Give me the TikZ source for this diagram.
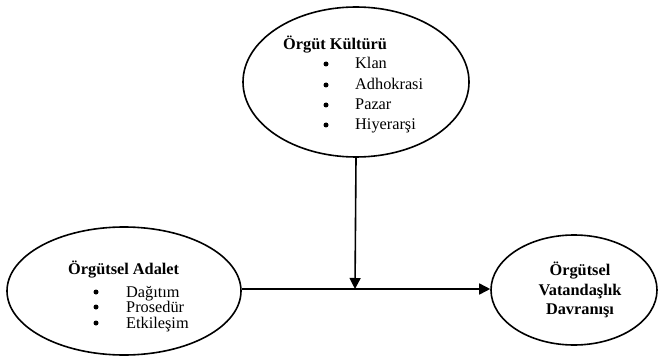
\documentclass[tikz,border=0pt]{standalone}
\usepackage{fontspec}
\setmainfont{Liberation Serif}
\usetikzlibrary{shapes.geometric,arrows.meta}
\begin{document}
\begin{tikzpicture}[x=1pt,y=-1pt,
  oval/.style={draw,ellipse,line width=1.6pt,inner sep=0pt},
  txt/.style={inner sep=0pt,font=\fontsize{16.3}{18}\selectfont},
  ttl/.style={txt,font=\fontsize{16.3}{18}\selectfont\bfseries},
  dot/.style={circle,fill=black,inner sep=0pt,minimum size=5pt},
  conn/.style={line width=1.6pt,-{Triangle[length=11pt,width=11pt]}}]
\useasboundingbox (0,0) rectangle (660,358);
% ellipses
\node[oval,minimum width=226pt,minimum height=150pt] (kultur) at (356,82) {};
\node[oval,minimum width=234pt,minimum height=128pt] (adalet) at (124,291) {};
\node[oval,minimum width=166pt,minimum height=110pt] (ovd) at (574,290) {};
% top texts
\node[ttl,anchor=base west] (t1) at (283,50) {Örgüt Kültürü};
\node[dot] (b1) at (326,64) {};
\node[dot] (b2) at (326,85) {};
\node[dot] (b3) at (326,105) {};
\node[dot] (b4) at (326,125) {};
\node[txt,anchor=base west] (i1) at (355,69) {Klan};
\node[txt,anchor=base west] (i2) at (355,90) {Adhokrasi};
\node[txt,anchor=base west] (i3) at (355,110) {Pazar};
\node[txt,anchor=base west] (i4) at (355,130) {Hiyerarşi};
% left texts
\node[ttl,anchor=base west] (t2) at (68,274) {Örgütsel Adalet};
\node[dot] (c1) at (96,292) {};
\node[dot] (c2) at (96,307) {};
\node[dot] (c3) at (96,323) {};
\node[txt,anchor=base west] (j1) at (126,297) {Dağıtım};
\node[txt,anchor=base west] (j2) at (126,312) {Prosedür};
\node[txt,anchor=base west] (j3) at (126,328) {Etkileşim};
% right texts
\node[ttl,anchor=base] (r1) at (580,275) {Örgütsel};
\node[ttl,anchor=base] (r2) at (580,295) {Vatandaşlık};
\node[ttl,anchor=base] (r3) at (580,314) {Davranışı};
% connectors
\coordinate (junc) at (355,289);
\draw[conn] (adalet.east |- junc) -- (ovd.west |- junc);
\draw[conn] (kultur.south) -- (junc);
\end{tikzpicture}
\end{document}
